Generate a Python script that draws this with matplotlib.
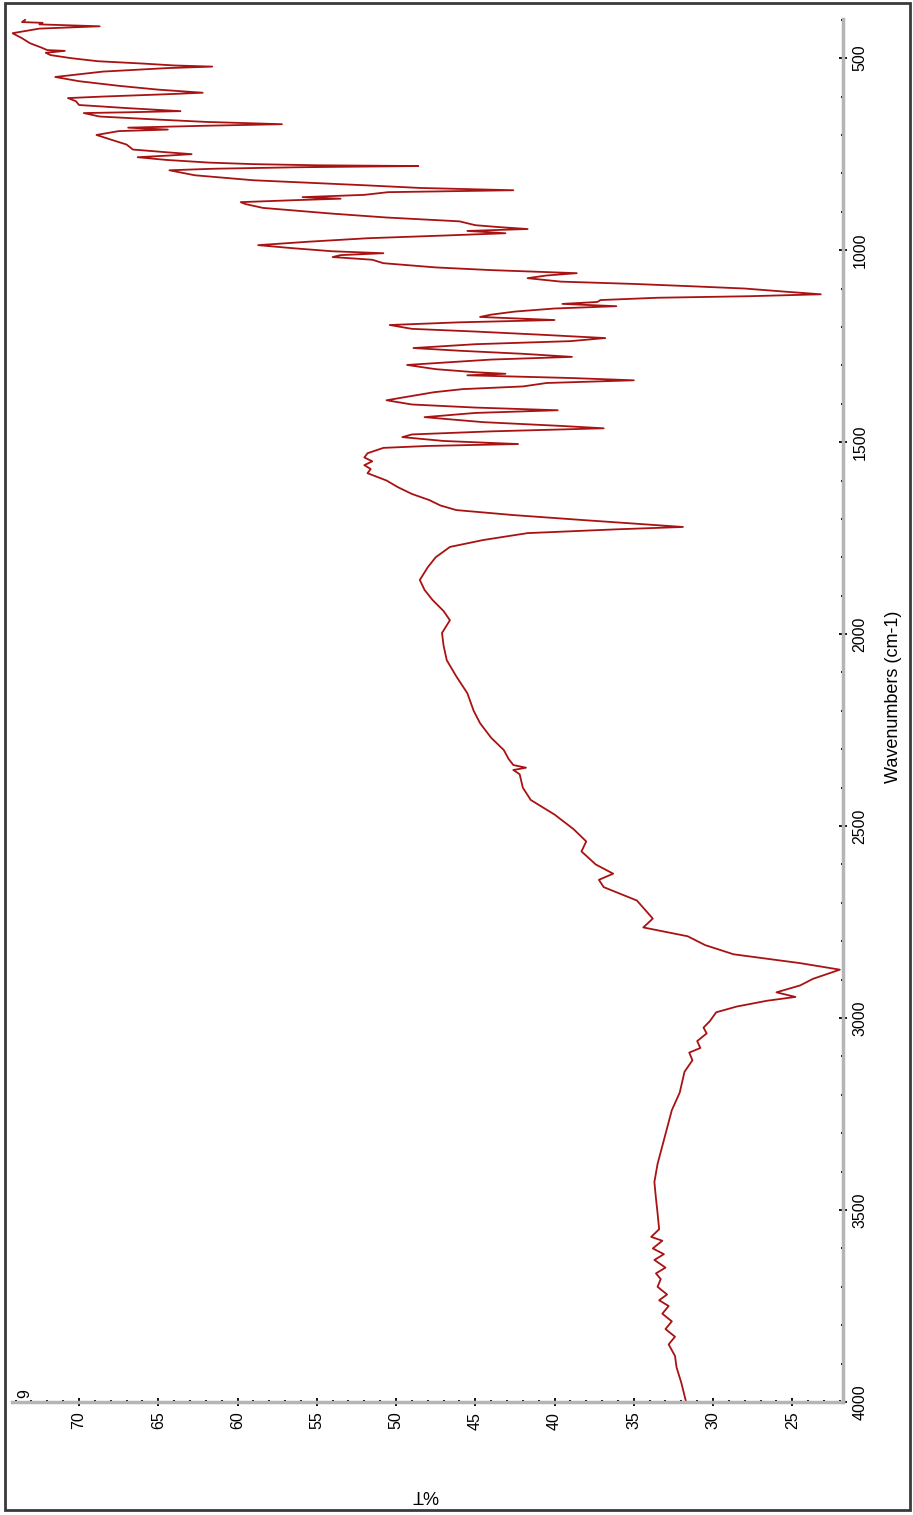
import matplotlib
matplotlib.use('Agg')
import matplotlib.pyplot as plt
from matplotlib.patches import Rectangle
from matplotlib.ticker import MultipleLocator

# IR spectrum: wavenumber (cm-1) vs %T
wavenumber = [
    400, 406, 408, 412, 417, 423, 435, 448, 461, 472, 479, 481, 486, 492,
    500, 508, 514, 519, 522, 526, 535, 549, 560, 572, 582, 590, 594, 600, 604,
    612, 622, 630, 638, 641, 643, 652, 660, 666, 672, 676, 681, 686, 690, 700,
    712, 725, 738, 745, 750, 754, 758, 765, 772, 776, 779, 781, 784, 788, 792,
    805, 818, 831, 838, 844, 849, 856, 862, 866, 870, 875, 880, 890, 905, 915,
    925, 935, 940, 945, 950, 956, 962, 969, 978, 987, 995, 1003, 1008, 1013,
    1018, 1025, 1034, 1045, 1052, 1060, 1066, 1073, 1082, 1088, 1094, 1100,
    1108, 1115, 1120, 1124, 1130, 1135, 1140, 1146, 1152, 1160, 1168, 1174,
    1182, 1188, 1195, 1205, 1212, 1220, 1229, 1237, 1245, 1255, 1262, 1270,
    1278, 1285, 1299, 1310, 1318, 1322, 1326, 1333, 1339, 1346, 1355, 1362,
    1370, 1391, 1402, 1410, 1417, 1424, 1435, 1448, 1458, 1464, 1472, 1480,
    1487, 1497, 1505, 1510, 1515, 1529, 1540, 1550, 1560, 1570, 1581, 1600,
    1617, 1635, 1651, 1665, 1677, 1690, 1703, 1712, 1721, 1727, 1737, 1755,
    1773, 1800, 1826, 1859, 1885, 1911, 1940, 1964, 1997, 2030, 2068, 2110,
    2154, 2200, 2232, 2270, 2302, 2325, 2341, 2348, 2354, 2365, 2400, 2432,
    2470, 2508, 2540, 2566, 2600, 2624, 2640, 2659, 2694, 2741, 2764, 2787,
    2810, 2834, 2857, 2874, 2898, 2915, 2933, 2945, 2955, 2970, 2985, 3008,
    3025, 3040, 3060, 3078, 3090, 3110, 3140, 3194, 3240, 3287, 3334, 3380,
    3427, 3470, 3508, 3550, 3570, 3580, 3600, 3615, 3630, 3650, 3665, 3680,
    3700, 3720, 3735, 3750, 3770, 3790, 3810, 3830, 3850, 3880, 3910, 3950,
    4000,
]
transmittance = [
    73.4, 73.6, 72.3, 72.5, 68.7, 72.5, 74.2, 73.6, 73.1, 72.4, 72.0, 70.9, 72.1, 71.8,
    70.5, 68.8, 66.0, 64.0, 61.6, 64.5, 68.5, 71.5, 70.0, 67.5, 65.0, 62.2, 64.5, 68.5, 70.7,
    70.2, 70.0, 67.0, 63.6, 67.0, 69.7, 68.7, 65.0, 62.0, 57.2, 62.0, 66.9, 64.4, 67.5, 68.9,
    68.0, 67.0, 66.6, 64.5, 62.9, 64.5, 66.3, 64.5, 61.8, 59.0, 55.0, 48.6, 56.0, 61.5, 64.3,
    62.7, 59.0, 52.0, 48.5, 42.6, 50.5, 52.0, 55.9, 53.5, 56.5, 59.8, 59.5, 58.4, 54.0, 50.6,
    46.0, 45.0, 43.5, 41.7, 45.5, 43.1, 47.0, 51.8, 55.5, 58.7, 56.5, 54.0, 50.8, 53.5,
    54.0, 51.5, 50.8, 47.5, 44.0, 38.6, 40.5, 41.7, 39.6, 35.0, 31.4, 28.0,
    25.5, 23.2, 27.7, 33.5, 37.1, 37.3, 39.5, 36.1, 40.0, 42.5, 44.0, 44.7,
    40.0, 46.0, 50.4, 49.0, 45.0, 41.0, 36.8, 39.0, 45.0, 48.9, 46.0, 42.0,
    38.9, 44.0, 49.3, 47.5, 45.0, 43.1, 45.5, 39.0, 35.0, 40.5, 42.0, 45.8,
    47.6, 50.6, 49.0, 45.0, 39.8, 45.0, 48.2, 44.5, 39.5, 36.9, 44.0, 49.0,
    49.6, 47.0, 42.3, 48.0, 50.8, 51.8, 52.0, 51.5, 52.0, 51.6, 51.8, 50.6,
    49.9, 49.0, 47.9, 47.2, 46.2, 42.6, 38.2, 35.0, 31.9, 36.0, 41.7, 44.5,
    46.6, 47.5, 48.0, 48.5, 48.2, 47.7, 47.0, 46.6, 47.1, 47.0, 46.8, 46.2,
    45.5, 45.1, 44.7, 44.0, 43.2, 42.9, 42.6, 41.8, 42.6, 42.2, 42.0, 41.5,
    40.0, 38.8, 38.0, 38.3, 37.4, 36.3, 37.2, 36.9, 34.8, 33.8, 34.4, 31.6,
    30.5, 28.7, 24.5, 22.0, 23.7, 24.5, 26.0, 24.8, 26.6, 28.5, 29.8, 30.2,
    30.6, 30.4, 31.0, 30.8, 31.5, 31.3, 31.8, 32.1, 32.6, 32.9, 33.2, 33.5,
    33.7, 33.6, 33.5, 33.4, 33.9, 33.2, 33.8, 33.1, 33.7, 33.0, 33.6, 33.3,
    33.5, 32.9, 33.4, 32.8, 33.2, 32.6, 33.0, 32.4, 32.8, 32.4, 32.3, 32.0,
    31.7,
]

pct_ticks = [25, 30, 35, 40, 45, 50, 55, 60, 65, 70]
wn_ticks = [500, 1000, 1500, 2000, 2500, 3000, 3500, 4000]

tick_font = ['Liberation Sans Narrow', 'Liberation Sans', 'DejaVu Sans']
plt.rcParams['font.family'] = tick_font

W, H = 913, 1515
fig = plt.figure(figsize=(W / 100, H / 100), dpi=100)
ax = fig.add_axes([12 / W, (H - 1402) / H, 831 / W, 1383 / H])

ax.plot(transmittance, wavenumber, color='#a81212', lw=1.3)

ax.set_xlim(74.23, 21.8)
ax.set_ylim(4000, 398)

for side in ('left', 'top'):
    ax.spines[side].set_visible(False)
for side in ('bottom', 'right'):
    ax.spines[side].set_color('#b5b5b5')
    ax.spines[side].set_linewidth(2.5)

ax.yaxis.tick_right()
ax.set_xticks(pct_ticks)
ax.set_yticks(wn_ticks)
ax.xaxis.set_minor_locator(MultipleLocator(1))
ax.yaxis.set_minor_locator(MultipleLocator(100))
ax.tick_params(which='major', direction='inout', length=6, width=1.3,
               color='black', labelsize=11.5, pad=4)
ax.tick_params(which='minor', direction='inout', length=2.5, width=1.5,
               color='black')
ax.tick_params(axis='x', labelrotation=90)
ax.tick_params(axis='y', labelrotation=90)
for lab in ax.get_yticklabels():
    lab.set_va('center')

fig.text(893 / W, 1 - 697 / H, 'Wavenumbers (cm-1)', rotation=90,
         ha='center', va='center', fontsize=13, family='Liberation Sans')
fig.text(425 / W, 1 - 1495 / H, '%T', rotation=180,
         ha='center', va='center', fontsize=13, family='Liberation Sans')
fig.text(25 / W, 1 - 1394 / H, '9', rotation=90,
         ha='center', va='center', fontsize=11.5)

fig.add_artist(Rectangle((5 / W, 5 / H), 905 / W, 1507 / H,
                         transform=fig.transFigure, fill=False,
                         ec='#3a3a3a', lw=2))

fig.savefig('out.png', dpi=100)
